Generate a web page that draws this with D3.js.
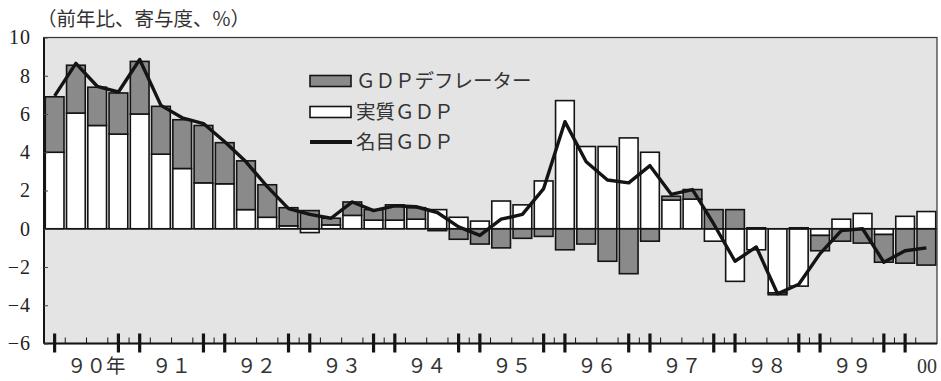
<!DOCTYPE html>
<html lang="ja">
<head>
<meta charset="utf-8">
<script src="https://cdn.jsdelivr.net/npm/d3@7"></script>
<style>
  html, body { margin: 0; padding: 0; background: #ffffff; }
  svg { display: block; }
</style>
</head>
<body>
<svg id="chart" width="941" height="381"></svg>
<script>
// Quarterly GDP growth (y/y %) and contributions, 1990Q1 – 2000Q2
const years = [1990, 1991, 1992, 1993, 1994, 1995, 1996, 1997, 1998, 1999, 2000];
const quarters = [];
years.forEach(y => [1, 2, 3, 4].forEach(q => {
  if (y < 2000 || q <= 2) quarters.push(y + "Q" + q);
}));

// 実質GDP (contribution)
const realGDP = [
  4.0, 6.05, 5.4, 4.95,
  6.0, 3.9, 3.15, 2.4,
  2.35, 1.0, 0.6, 0.15,
  -0.2, 0.2, 0.7, 0.45,
  0.45, 0.5, 1.0, 0.6,
  0.4, 1.45, 1.25, 2.5,
  6.7, 4.3, 4.3, 4.75,
  4.0, 1.5, 1.55, -0.65,
  -2.75, -1.1, -3.35, -3.0,
  -0.35, 0.5, 0.8, -0.3,
  0.65, 0.9
];

// GDPデフレーター (contribution)
const deflator = [
  2.9, 2.5, 2.0, 2.15,
  2.75, 2.5, 2.55, 3.0,
  2.15, 2.55, 1.7, 0.95,
  0.95, 0.35, 0.7, 0.55,
  0.8, 0.6, -0.1, -0.55,
  -0.8, -1.0, -0.5, -0.4,
  -1.1, -0.8, -1.7, -2.35,
  -0.65, 0.2, 0.5, 1.0,
  1.0, 0.05, -0.1, 0.05,
  -0.8, -0.65, -0.75, -1.45,
  -1.8, -1.9
];

// 名目GDP
const nominalGDP = [
  6.95, 8.65, 7.45, 7.15,
  8.85, 6.45, 5.8, 5.5,
  4.55, 3.5, 2.2, 1.05,
  0.75, 0.55, 1.4, 0.95,
  1.2, 1.15, 0.85, 0.1,
  -0.35, 0.5, 0.75, 2.1,
  5.6, 3.5, 2.55, 2.4,
  3.3, 1.8, 2.05, 0.25,
  -1.7, -0.95, -3.4, -2.9,
  -1.3, -0.1, 0.0, -1.75,
  -1.15, -1.0
];

const yTicks = [10, 8, 6, 4, 2, 0, -2, -4, -6];
const yearLabels = ["９０", "９１", "９２", "９３", "９４", "９５", "９６", "９７", "９８", "９９", "00"];
const titleText = "（前年比、寄与度、%）";
const legendLabels = ["ＧＤＰデフレーター", "実質ＧＤＰ", "名目ＧＤＰ"];

const rows = quarters.map((q, i) => ({ q, real: realGDP[i], deflator: deflator[i], nominal: nominalGDP[i] }));

const svg = d3.select("#chart");
const plot = { left: 44, right: 937, top: 37.5, bottom: 343.5 };

const x = d3.scaleBand().domain(quarters).range([plot.left, plot.right])
  .paddingInner(0.12).paddingOuter(0.06);
const y = d3.scaleLinear().domain([-6, 10]).range([plot.bottom, plot.top]);
const cx = q => x(q) + x.bandwidth() / 2;

const COL_BG = "#e4e4e4";
const COL_DEF = "#8a8a8a";
const COL_INK = "#141414";
const CJK = "'Noto Sans CJK JP', 'Noto Sans', sans-serif";
const SERIF = "'Liberation Serif', 'DejaVu Serif', serif";

// plot background
svg.append("rect")
  .attr("x", plot.left).attr("y", plot.top)
  .attr("width", plot.right - plot.left).attr("height", plot.bottom - plot.top)
  .attr("fill", COL_BG);

// stacked bars: real GDP next to zero, deflator stacked beyond it
const series = d3.stack().keys(["real", "deflator"]).offset(d3.stackOffsetDiverging)(rows);
const fills = { real: "#ffffff", deflator: COL_DEF };

svg.append("g").selectAll("g").data(series).join("g")
  .attr("fill", d => fills[d.key])
  .selectAll("rect").data(d => d).join("rect")
  .attr("x", d => x(d.data.q))
  .attr("width", x.bandwidth())
  .attr("y", d => y(Math.max(d[0], d[1])))
  .attr("height", d => Math.abs(y(d[0]) - y(d[1])))
  .attr("stroke", COL_INK)
  .attr("stroke-width", 1.6);

// zero line
svg.append("line")
  .attr("x1", plot.left).attr("x2", plot.right)
  .attr("y1", y(0)).attr("y2", y(0))
  .attr("stroke", COL_INK).attr("stroke-width", 1.5);

// nominal GDP line
svg.append("path")
  .datum(rows)
  .attr("fill", "none")
  .attr("stroke", COL_INK)
  .attr("stroke-width", 3.4)
  .attr("stroke-linejoin", "round")
  .attr("d", d3.line().x(d => cx(d.q)).y(d => y(d.nominal)));

// frame
svg.append("rect")
  .attr("x", plot.left).attr("y", plot.top)
  .attr("width", plot.right - plot.left).attr("height", plot.bottom - plot.top)
  .attr("fill", "none").attr("stroke", "#333").attr("stroke-width", 1.2);
svg.append("line")
  .attr("x1", plot.left).attr("x2", plot.left)
  .attr("y1", plot.top).attr("y2", plot.bottom)
  .attr("stroke", COL_INK).attr("stroke-width", 2);
svg.append("line")
  .attr("x1", plot.left).attr("x2", plot.right)
  .attr("y1", plot.bottom).attr("y2", plot.bottom)
  .attr("stroke", COL_INK).attr("stroke-width", 1.8);

// y axis
const yAxis = d3.axisLeft(y).tickValues(yTicks).tickSize(-4).tickPadding(13)
  .tickFormat(d => d < 0 ? "−" + Math.abs(d) : String(d));
const yg = svg.append("g").attr("transform", `translate(${plot.left},0)`).call(yAxis);
yg.select(".domain").remove();
yg.selectAll(".tick line").attr("stroke", "#444").attr("stroke-width", 1);
yg.selectAll(".tick text")
  .attr("font-family", SERIF).attr("font-size", 20).attr("fill", "#222")
  .attr("letter-spacing", 1);

// x ticks: thin marks at quarter boundaries, heavy marks on Q4/Q1 bars
const bottom = plot.bottom;
const boundaries = quarters.slice(1).map(q => x(q) - x.step() * x.paddingInner() / 2);
svg.append("g").selectAll("line").data(boundaries).join("line")
  .attr("x1", d => d).attr("x2", d => d)
  .attr("y1", bottom - 6).attr("y2", bottom)
  .attr("stroke", COL_INK).attr("stroke-width", 1);

const majors = quarters.filter((q, i) => i === 0 || ((q.endsWith("Q4") || q.endsWith("Q1")) && i < quarters.length - 1));
svg.append("g").selectAll("line").data(majors).join("line")
  .attr("x1", d => cx(d)).attr("x2", d => cx(d))
  .attr("y1", bottom - 10).attr("y2", bottom + 9)
  .attr("stroke", COL_INK).attr("stroke-width", 3.2);

// year labels
const xl = svg.append("g").attr("font-family", CJK).attr("font-size", 19.5).attr("fill", "#333");
years.forEach((yr, i) => {
  const label = yearLabels[i];
  if (yr === 2000) {
    xl.append("text").attr("x", plot.right).attr("y", 373)
      .attr("text-anchor", "end").attr("font-family", SERIF).attr("font-size", 20)
      .text(label);
    return;
  }
  const mid = (cx(yr + "Q2") + cx(yr + "Q3")) / 2;
  const t = xl.append("text").attr("y", 373);
  if (i === 0) {
    t.attr("x", mid - 19.5).attr("text-anchor", "start").text(label + "年");
  } else {
    t.attr("x", mid).attr("text-anchor", "middle").text(label);
  }
});

// title
svg.append("text")
  .attr("x", 37).attr("y", 26)
  .attr("font-family", CJK).attr("font-size", 19.5).attr("fill", "#333")
  .text(titleText);

// legend
const lg = svg.append("g").attr("transform", "translate(310,0)");
const rowY = [81, 112, 142];
lg.append("rect").attr("x", 0).attr("y", rowY[0] - 5.5).attr("width", 41).attr("height", 11)
  .attr("fill", COL_DEF).attr("stroke", COL_INK).attr("stroke-width", 1.6);
lg.append("rect").attr("x", 0).attr("y", rowY[1] - 5.5).attr("width", 41).attr("height", 11)
  .attr("fill", "#ffffff").attr("stroke", COL_INK).attr("stroke-width", 1.6);
lg.append("line").attr("x1", 0).attr("x2", 42).attr("y1", rowY[2]).attr("y2", rowY[2])
  .attr("stroke", COL_INK).attr("stroke-width", 4);
legendLabels.forEach((lab, i) => {
  lg.append("text").attr("x", 46).attr("y", rowY[i] + 7)
    .attr("font-family", CJK).attr("font-size", 19.5).attr("fill", "#333")
    .text(lab);
});
</script>
</body>
</html>
